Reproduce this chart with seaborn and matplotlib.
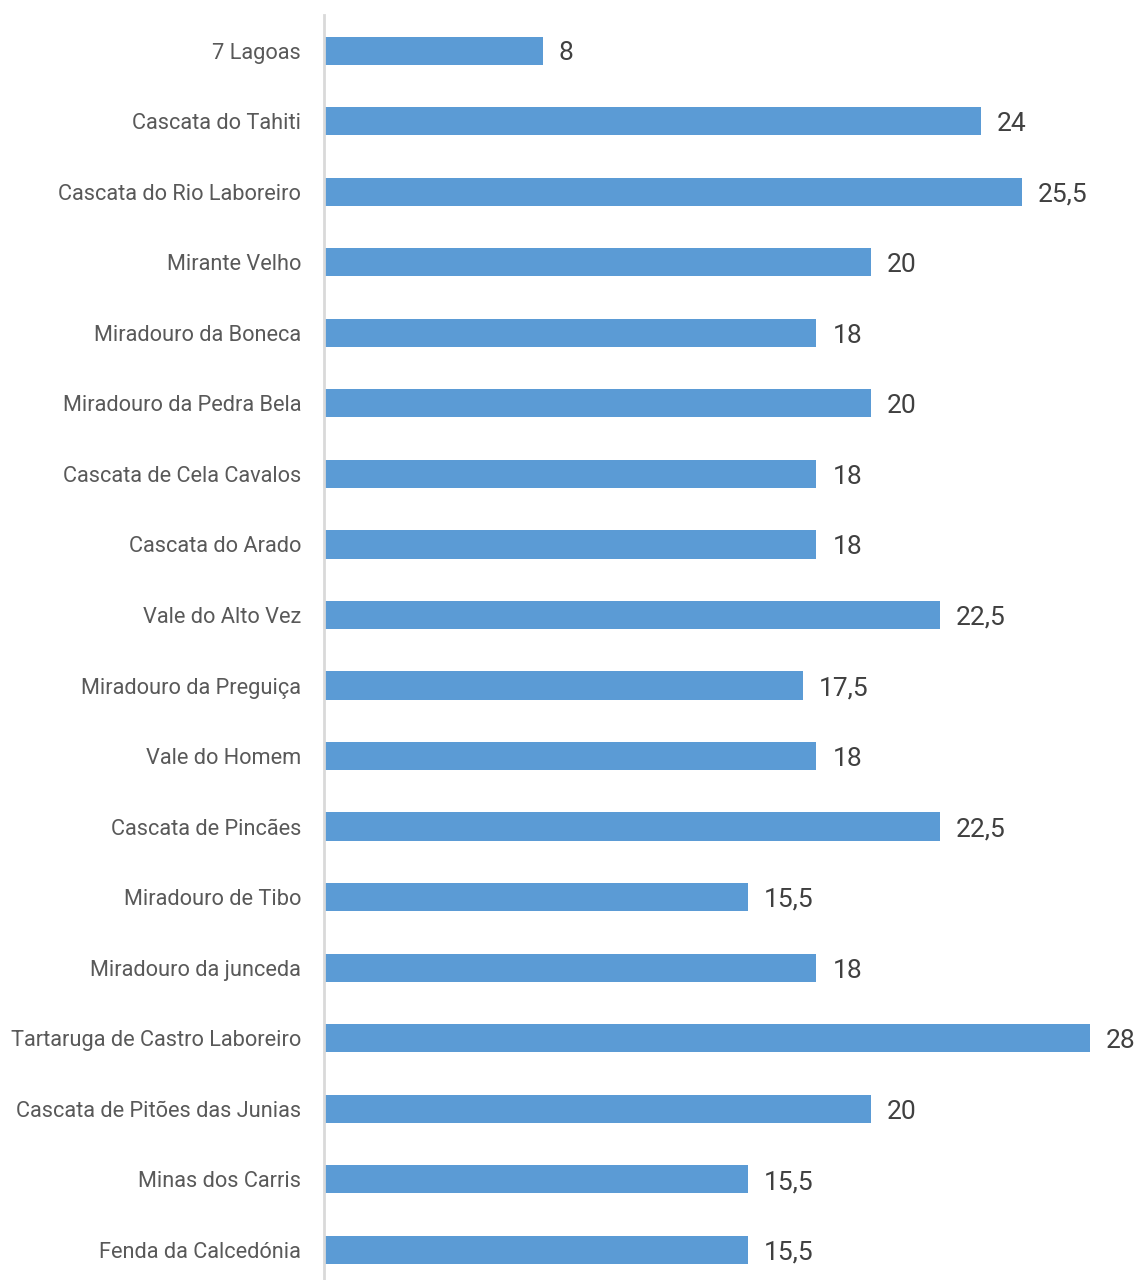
import matplotlib
matplotlib.use("Agg")
import matplotlib.pyplot as plt
import seaborn as sns
import pandas as pd

categories = ["7 Lagoas", "Cascata do Tahiti", "Cascata do Rio Laboreiro", "Mirante Velho",
              "Miradouro da Boneca", "Miradouro da Pedra Bela", "Cascata de Cela Cavalos",
              "Cascata do Arado", "Vale do Alto Vez", "Miradouro da Preguiça", "Vale do Homem",
              "Cascata de Pincães", "Miradouro de Tibo", "Miradouro da junceda",
              "Tartaruga de Castro Laboreiro", "Cascata de Pitões das Junias",
              "Minas dos Carris", "Fenda da Calcedónia"]
values = [8, 24, 25.5, 20, 18, 20, 18, 18, 22.5, 17.5, 18, 22.5, 15.5, 18, 28, 20, 15.5, 15.5]

df = pd.DataFrame({"cat": categories, "val": values})

sns.set_theme(style="white")
plt.rcParams['font.family'] = ['Roboto', 'DejaVu Sans']

fig = plt.figure(figsize=(11.41, 12.8), dpi=100)
left = 324 / 1141
ax = fig.add_axes([left, -0.004, 1 - left, 0.992])
sns.barplot(data=df, x="val", y="cat", color="#5B9BD5", saturation=1, width=0.4,
            linewidth=0, ax=ax, orient="h")
ax.set_xlim(0, (1141 - 324) / 27.36)
ax.set_ylim(len(categories) - 0.5, -0.5)
ax.set_xlabel("")
ax.set_ylabel("")
ax.set_xticks([])
for s in ["top", "right", "bottom"]:
    ax.spines[s].set_visible(False)
ax.spines["left"].set_color("#D9D9D9")
ax.spines["left"].set_linewidth(2)
ax.tick_params(axis="y", length=0, pad=16.5, labelsize=15.7, labelcolor="#595959")
for i, v in enumerate(values):
    txt = f"{v:g}".replace(".", ",")
    ax.text(v + 0.58, i + 0.04, txt, va="center", ha="left", fontsize=19, color="#404040")

fig.savefig("out.png", dpi=100)
